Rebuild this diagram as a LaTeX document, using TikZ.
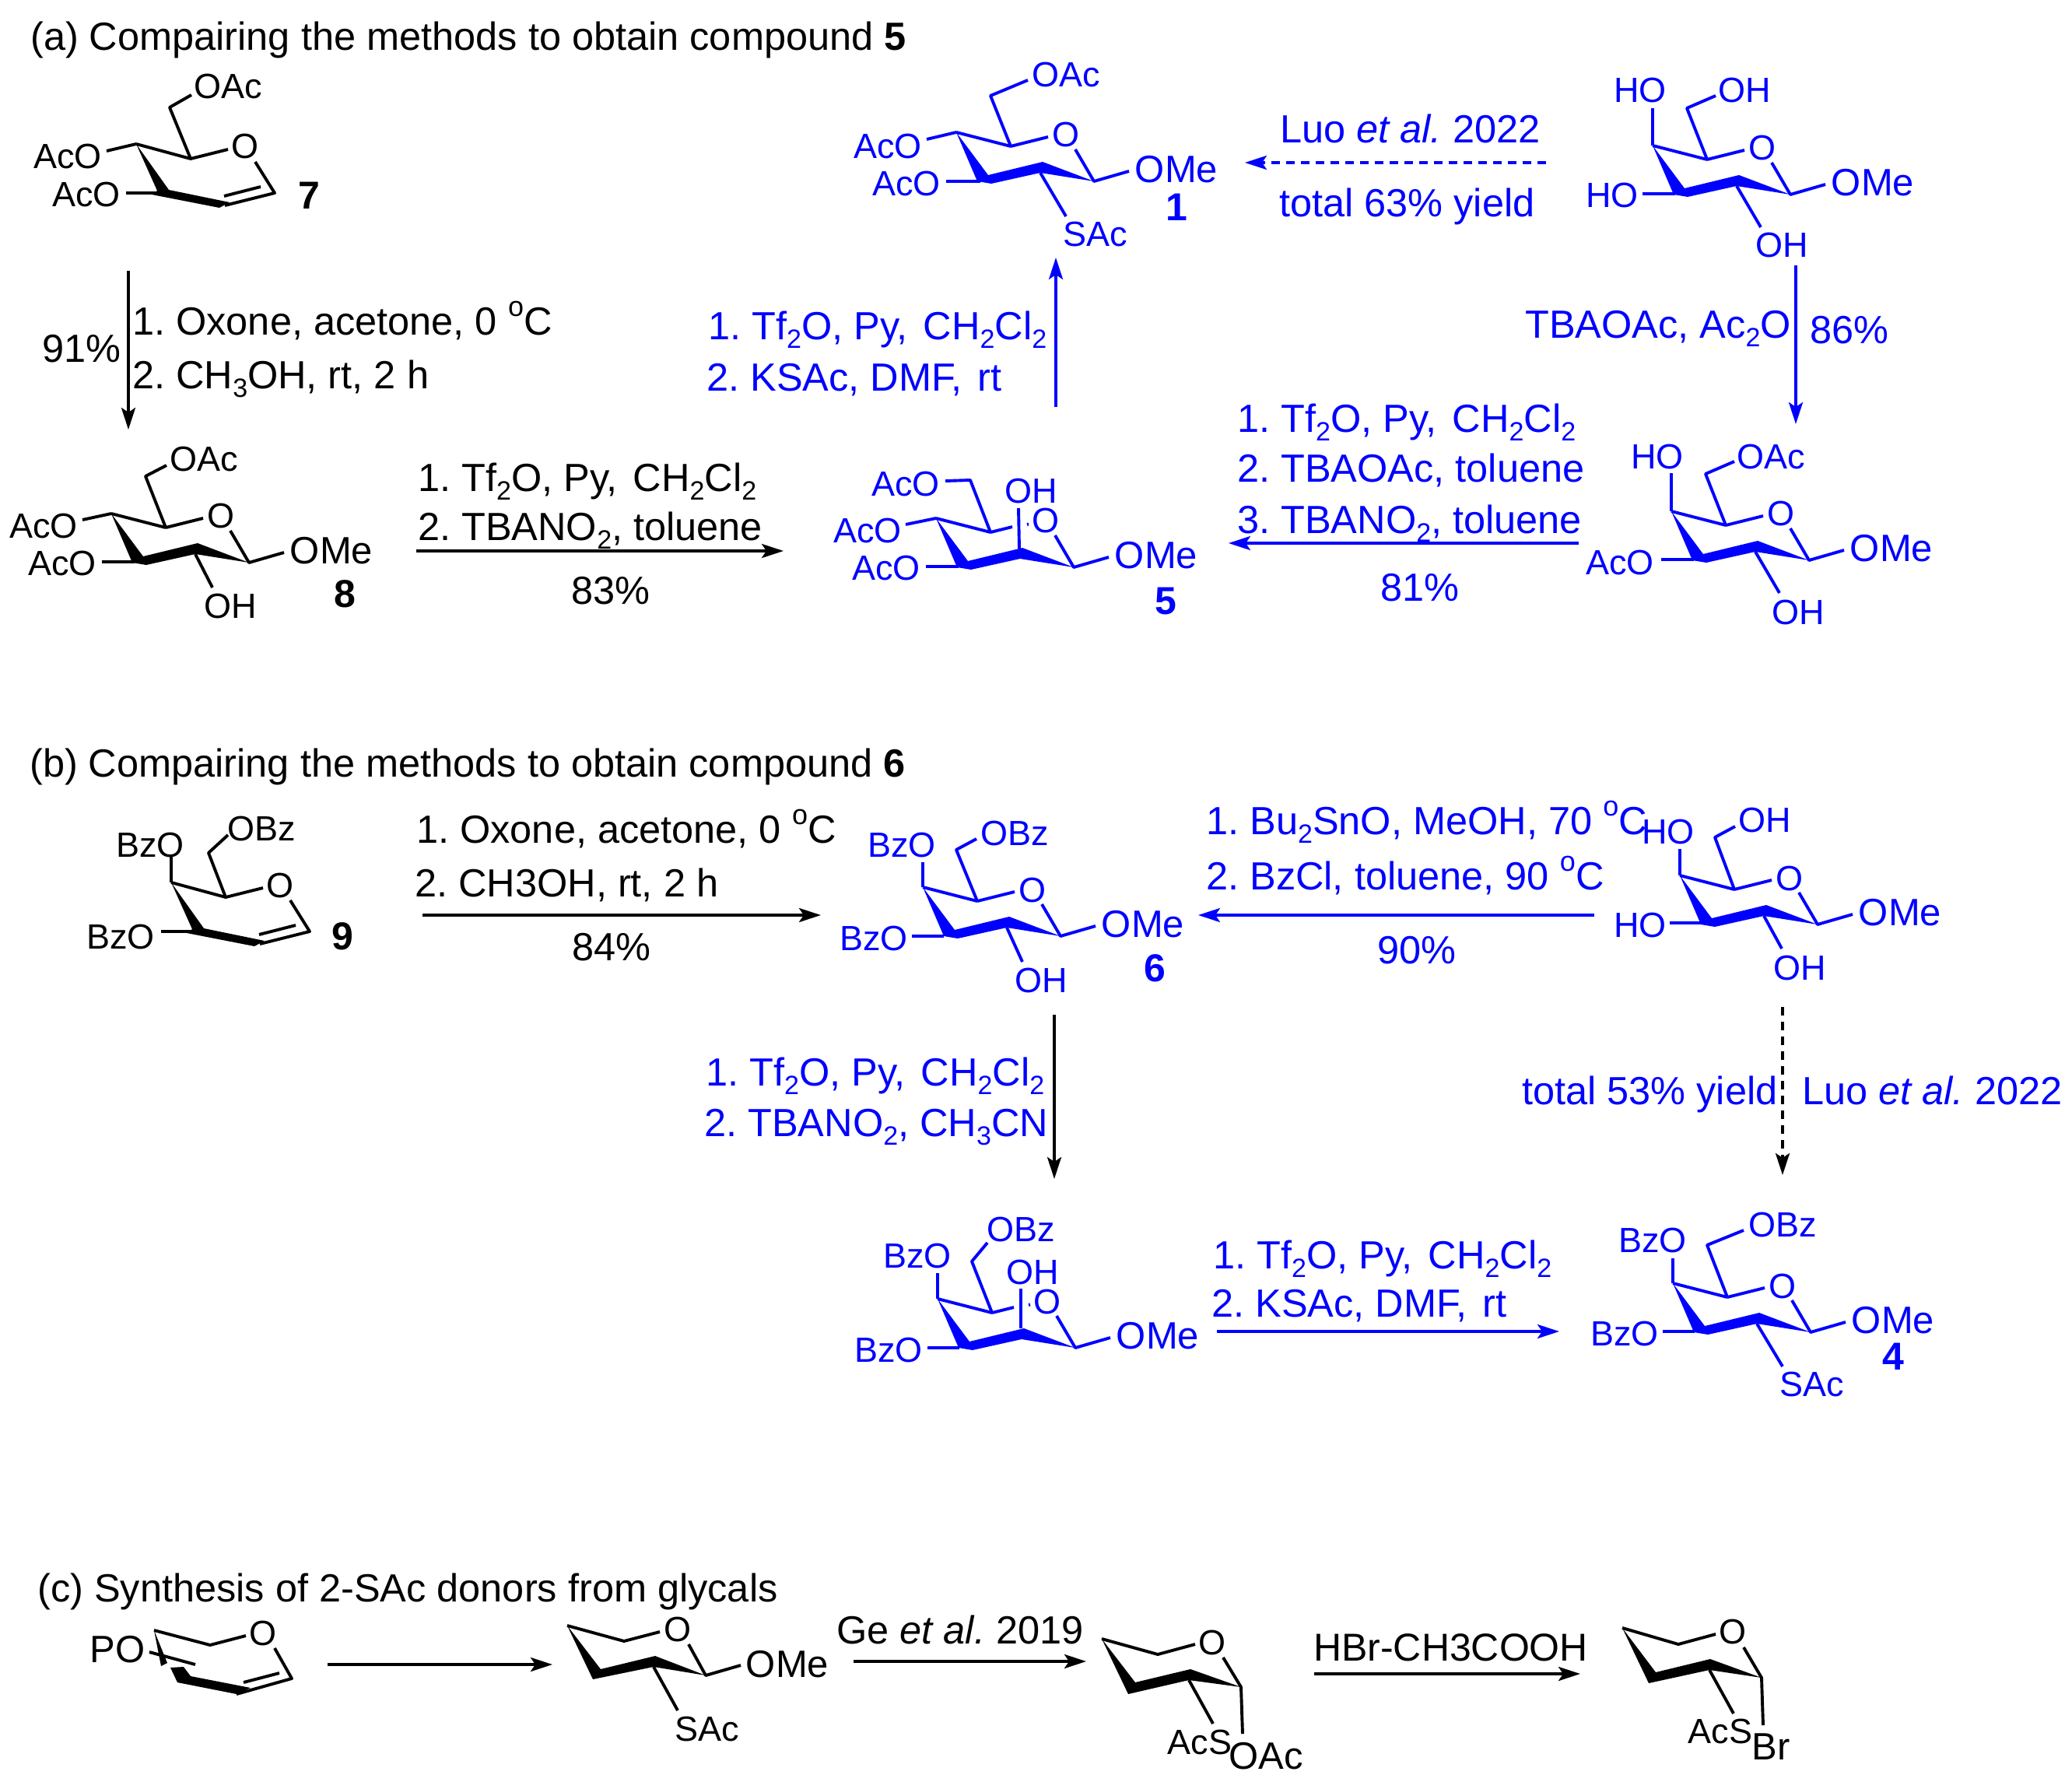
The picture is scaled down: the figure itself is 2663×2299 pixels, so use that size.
\documentclass[tikz,border=0pt]{standalone}
\usepackage{fontspec}
\setmainfont{Liberation Sans}
\usetikzlibrary{arrows.meta}
\definecolor{chemblue}{RGB}{0,0,255}
\newcommand{\lowsub}[1]{\raisebox{-0.22em}{\fontsize{34}{34}\selectfont #1}}
\newcommand{\highsup}[1]{\raisebox{0.46em}{\fontsize{36}{36}\selectfont #1}}
\newcommand{\widesp}{\ \kern0.12em}
\frenchspacing
\tikzset{
 bond/.style={line width=3.9pt,line join=round},
 rxn/.style={line width=3.7pt,-{Stealth[length=28pt,width=18pt,inset=6pt]}},
 rxndash/.style={rxn,dash pattern=on 11pt off 8pt},
 atom/.style={inner sep=0pt,yshift=-1.5pt,font=\fontsize{45}{45}\selectfont},
 atomL/.style={inner sep=0pt,yshift=-1.5pt,font=\fontsize{49}{49}\selectfont},
 numlabel/.style={inner sep=0pt,yshift=-1.5pt,font=\fontsize{50}{50}\selectfont\bfseries},
 txt/.style={inner sep=0pt,anchor=base west,yshift=-1pt,font=\fontsize{50.5}{50.5}\selectfont},
 ctxt/.style={inner sep=0pt,anchor=base,yshift=-1pt,font=\fontsize{50.5}{50.5}\selectfont},
}
% pyranose chair with O and OMe, C5 at (#2,#3)
\newcommand{\sugarring}[3]{%
 \begin{scope}[shift={(#2,#3)}]
 \coordinate (#1-c5) at (0,0);
 \coordinate (#1-c4) at (-70,-18);
 \coordinate (#1-c1) at (107,45);
 \coordinate (#1-c2) at (38,34);
 \coordinate (#1-c3) at (-43,45);
 \fill (#1-c4) -- (-29,37) -- (41,20) -- (#1-c1) -- (#1-c2) -- (-25,48) -- (#1-c3) -- cycle;
 \draw[bond] (#1-c4) -- (#1-c5);
 \node[atom] (#1-o) at (71,-16) {O};
 \node[atomL] (#1-ome) at (213,28) {OMe};
 \draw[bond] (83,4) -- (#1-c1) -- (152,32);
 \end{scope}}
\newcommand{\fullO}[1]{\draw[bond] (#1-c5) -- ++(48,-12);}
\newcommand{\gapO}[1]{\draw[bond] (#1-c5) -- ++(28,-7); \draw[bond] ([shift={(47,-10)}]#1-c5) -- ++(2,-0.5);}
% glycal chair, C5 at (#2,#3)
\newcommand{\glycalring}[3]{%
 \begin{scope}[shift={(#2,#3)}]
 \coordinate (#1-c5) at (0,0);
 \coordinate (#1-c4) at (-70,-19);
 \coordinate (#1-c1) at (108,44);
 \coordinate (#1-c2) at (44,60);
 \fill (#1-c4) -- (-28,40) -- (50,56) -- (37,63) -- (-50,46) -- (-43,41) -- cycle;
 \draw[bond] (#1-c4) -- (#1-c5) -- (48,-12);
 \node[atom] (#1-o) at (70,-17) {O};
 \draw[bond] (83,4) -- (#1-c1) -- (#1-c2);
 \draw[bond] (43,48) -- (90,36);
 \end{scope}}
\begin{document}
\begin{tikzpicture}[x=1pt,y=-1pt]
\fill[white] (0,0) rectangle (2663,2299);
\useasboundingbox (0,0) rectangle (2663,2299);
%%% headings
\node[txt] (heada) at (39,63) {(a) Compairing the methods to obtain compound \textbf{5}};
\node[txt] (headb) at (38,997) {(b) Compairing the methods to obtain compound \textbf{6}};
\node[txt] (headc) at (48,2057) {(c) Synthesis of 2-SAc donors from glycals};
%%% compound 7
\glycalring{g7}{245}{204}
\draw[bond] (g7-c5) -- (218,138) -- (246,122);
\node[atom] (g7a) at (293,110) {OAc};
\draw[bond] (g7-c4) -- (137,194);
\node[atom] (g7b) at (87,200) {AcO};
\draw[bond] (162,248) -- (200,248);
\node[atom] (g7c) at (111,249) {AcO};
\node[numlabel] (n7) at (397,250) {7};
%%% compound 8
\sugarring{m8}{213}{678}\fullO{m8}
\draw[bond] (m8-c5) -- (187,612) -- (214,598);
\node[atom] (m8a) at (262,589) {OAc};
\draw[bond] (m8-c4) -- (106,668);
\node[atom] (m8b) at (56,675) {AcO};
\draw[bond] (131,722) -- (173,722);
\node[atom] (m8c) at (80,723) {AcO};
\draw[bond] (m8-c2) -- (273,755);
\node[atom] (m8d) at (296,777) {OH};
\node[numlabel] (n8) at (443,762) {8};
%%% black reagents (a)
\node[txt] (r1) at (170,429) {1. Oxone, acetone, 0 \highsup{o}C};
\node[txt] (r2) at (170,498) {2. CH\lowsub{3}OH, rt, 2 h};
\node[txt] (r3) at (54,464) {91\%};
\node[txt] (r4) at (537,630) {1. Tf\lowsub{2}O, Py,\widesp CH\lowsub{2}Cl\lowsub{2}};
\node[txt] (r5) at (537,693) {2. TBANO\lowsub{2}, toluene};
\node[ctxt] (r6) at (785,775) {83\%};
\coordinate (a1s) at (165,348); \coordinate (a1e) at (165,552);
\draw[rxn] (a1s) -- (a1e);
\coordinate (a2s) at (535,708); \coordinate (a2e) at (1007,708);
\draw[rxn] (a2s) -- (a2e);
%%% compound 9
\glycalring{g9}{290}{1153}
\draw[bond] (g9-c5) -- (268,1096) -- (293,1073);
\node[atom] (g9a) at (336,1063) {OBz};
\draw[bond] (g9-c4) -- (220,1101);
\node[atom] (g9b) at (193,1084) {BzO};
\draw[bond] (207,1197) -- (245,1197);
\node[atom] (g9c) at (155,1202) {BzO};
\node[numlabel] (n9) at (440,1202) {9};
%%% black reagents (b)
\node[txt] (r7) at (535,1082) {1. Oxone, acetone, 0 \highsup{o}C};
\node[txt] (r8) at (533,1151) {2. CH3OH, rt, 2 h};
\node[ctxt] (r9) at (786,1233) {84\%};
\coordinate (a3s) at (543,1176); \coordinate (a3e) at (1055,1176);
\draw[rxn] (a3s) -- (a3e);
\coordinate (a4s) at (1355,1304); \coordinate (a4e) at (1355,1515);
\draw[rxn] (a4s) -- (a4e);
\coordinate (a5s) at (2291,1294); \coordinate (a5e) at (2291,1510);
\draw[rxndash] (a5s) -- (a5e);
%%% blue part
\begin{scope}[color=chemblue]
% compound 1
\sugarring{m1}{1299}{188}\fullO{m1}
\draw[bond] (m1-c5) -- (1273,123) -- (1321,103);
\node[atom] (m1a) at (1370,95) {OAc};
\draw[bond] (m1-c4) -- (1191,179);
\node[atom] (m1b) at (1141,187) {AcO};
\draw[bond] (1216,233) -- (1260,233);
\node[atom] (m1c) at (1165,235) {AcO};
\draw[bond] (m1-c2) -- (1370,278);
\node[atom] (m1d) at (1408,300) {SAc};
\node[numlabel] (n1) at (1512,265) {1};
% top right galactoside
\sugarring{m2}{2194}{205}\fullO{m2}
\draw[bond] (m2-c4) -- (2124,139);
\node[atom] (m2a) at (2108,115) {HO};
\draw[bond] (m2-c5) -- (2168,139) -- (2205,123);
\node[atom] (m2b) at (2242,115) {OH};
\draw[bond] (2111,249) -- (2153,249);
\node[atom] (m2c) at (2072,250) {HO};
\draw[bond] (m2-c2) -- (2263,292);
\node[atom] (m2d) at (2290,314) {OH};
% 3-OAc intermediate
\sugarring{m3}{2218}{675}\fullO{m3}
\draw[bond] (m3-c4) -- (2148,608);
\node[atom] (m3a) at (2130,586) {HO};
\draw[bond] (m3-c5) -- (2192,609) -- (2229,593);
\node[atom] (m3b) at (2276,586) {OAc};
\draw[bond] (2135,719) -- (2177,719);
\node[atom] (m3c) at (2082,722) {AcO};
\draw[bond] (m3-c2) -- (2287,762);
\node[atom] (m3d) at (2311,785) {OH};
% compound 5
\sugarring{m5}{1273}{684}\gapO{m5}
\draw[bond] (1309,653) -- (1310,705);
\node[atom] (m5a) at (1325,630) {OH};
\draw[bond] (m5-c5) -- (1247,617) -- (1215,618);
\node[atom] (m5b) at (1164,621) {AcO};
\draw[bond] (m5-c4) -- (1164,674);
\node[atom] (m5c) at (1115,681) {AcO};
\draw[bond] (1190,728) -- (1232,728);
\node[atom] (m5d) at (1139,729) {AcO};
\node[numlabel] (n5) at (1498,771) {5};
% compound 6
\sugarring{m6}{1256}{1158}\fullO{m6}
\draw[bond] (m6-c4) -- (1186,1108);
\node[atom] (m6a) at (1159,1084) {BzO};
\draw[bond] (m6-c5) -- (1229,1092) -- (1255,1078);
\node[atom] (m6b) at (1304,1069) {OBz};
\draw[bond] (1172,1203) -- (1213,1203);
\node[atom] (m6c) at (1123,1204) {BzO};
\draw[bond] (m6-c2) -- (1314,1236);
\node[atom] (m6d) at (1338,1258) {OH};
\node[numlabel] (n6) at (1484,1243) {6};
% right galactoside (b)
\sugarring{m7}{2229}{1143}\fullO{m7}
\draw[bond] (m7-c4) -- (2159,1091);
\node[atom] (m7a) at (2144,1067) {HO};
\draw[bond] (m7-c5) -- (2204,1076) -- (2230,1062);
\node[atom] (m7b) at (2268,1052) {OH};
\draw[bond] (2146,1186) -- (2188,1186);
\node[atom] (m7c) at (2108,1187) {HO};
\draw[bond] (m7-c2) -- (2290,1219);
\node[atom] (m7d) at (2313,1242) {OH};
% manno benzoate
\sugarring{m9}{1275}{1687}\gapO{m9}
\draw[bond] (1312,1656) -- (1312,1707);
\node[atom] (m9a) at (1327,1633) {OH};
\draw[bond] (m9-c4) -- (1205,1636);
\node[atom] (m9b) at (1179,1612) {BzO};
\draw[bond] (m9-c5) -- (1249,1621) -- (1269,1597);
\node[atom] (m9c) at (1312,1578) {OBz};
\draw[bond] (1192,1732) -- (1233,1732);
\node[atom] (m9d) at (1142,1733) {BzO};
% compound 4
\sugarring{m4}{2220}{1667}\fullO{m4}
\draw[bond] (m4-c4) -- (2150,1617);
\node[atom] (m4a) at (2124,1592) {BzO};
\draw[bond] (m4-c5) -- (2194,1600) -- (2241,1581);
\node[atom] (m4b) at (2291,1572) {OBz};
\draw[bond] (2137,1711) -- (2178,1711);
\node[atom] (m4c) at (2088,1712) {BzO};
\draw[bond] (m4-c2) -- (2291,1756);
\node[atom] (m4d) at (2329,1777) {SAc};
\node[numlabel] (n4) at (2433,1742) {4};
% blue reagents
\node[txt] (b1) at (910,435) {1. Tf\lowsub{2}O, Py,\widesp CH\lowsub{2}Cl\lowsub{2}};
\node[txt] (b2) at (908,501) {2. KSAc, DMF,\widesp rt};
\node[txt] (b3) at (1645,182) {Luo \textit{et al.} 2022};
\node[txt] (b4) at (1644,277) {total 63\% yield};
\node[txt] (b5) at (1960,433) {TBAOAc, Ac\lowsub{2}O};
\node[txt] (b6) at (2326,440) {86\%};
\node[txt] (b7) at (1590,554) {1. Tf\lowsub{2}O, Py,\widesp CH\lowsub{2}Cl\lowsub{2}};
\node[txt] (b8) at (1590,618) {2. TBAOAc, toluene};
\node[txt] (b9) at (1590,684) {3. TBANO\lowsub{2}, toluene};
\node[ctxt] (b10) at (1825,771) {81\%};
\node[txt] (b11) at (1550,1071) {1. Bu\lowsub{2}SnO, MeOH, 70 \highsup{o}C};
\node[txt] (b12) at (1550,1142) {2. BzCl, toluene, 90 \highsup{o}C};
\node[ctxt] (b13) at (1821,1237) {90\%};
\node[txt] (b14) at (907,1394) {1. Tf\lowsub{2}O, Py,\widesp CH\lowsub{2}Cl\lowsub{2}};
\node[txt] (b15) at (905,1459) {2. TBANO\lowsub{2}, CH\lowsub{3}CN};
\node[txt] (b16) at (1956,1418) {total 53\% yield};
\node[txt] (b17) at (2316,1418) {Luo \textit{et al.} 2022};
\node[txt] (b18) at (1559,1629) {1. Tf\lowsub{2}O, Py,\widesp CH\lowsub{2}Cl\lowsub{2}};
\node[txt] (b19) at (1557,1691) {2. KSAc, DMF,\widesp rt};
% blue arrows
\coordinate (c1s) at (1357,523); \coordinate (c1e) at (1357,331);
\draw[rxn] (c1s) -- (c1e);
\coordinate (c2s) at (1987,209); \coordinate (c2e) at (1600,209);
\draw[rxndash] (c2s) -- (c2e);
\coordinate (c3s) at (2308,341); \coordinate (c3e) at (2308,545);
\draw[rxn] (c3s) -- (c3e);
\coordinate (c4s) at (2029,698); \coordinate (c4e) at (1579,698);
\draw[rxn] (c4s) -- (c4e);
\coordinate (c5s) at (2049,1176); \coordinate (c5e) at (1540,1176);
\draw[rxn] (c5s) -- (c5e);
\coordinate (c6s) at (1564,1711); \coordinate (c6e) at (2004,1711);
\draw[rxn] (c6s) -- (c6e);
\end{scope}
%%% part (c)
% glycal PO
\node[atomL] (p1a) at (151,2118) {PO};
\coordinate (p1c4) at (198,2095); \coordinate (p1c5) at (270,2114); \coordinate (p1c1) at (375,2157); \coordinate (p1c2) at (304,2177);
\fill (p1c4) -- (215,2137) -- (207,2141) -- cycle;
\draw[bond] (p1c4) -- (p1c5) -- (316,2102);
\node[atom] (p1o) at (338,2097) {O};
\draw[bond] (353,2118) -- (p1c1) -- (p1c2);
\draw[bond] (313,2162) -- (359,2150);
\draw[bond] (192,2123) -- (251,2139);
\fill (219,2143) -- (236,2142) -- (245,2154) -- (322,2169) -- (p1c2) -- (228,2162) -- cycle;
% c-SAc OMe
\coordinate (p2c4) at (729,2089); \coordinate (p2c5) at (802,2109); \coordinate (p2c1) at (907,2153); \coordinate (p2c2) at (840,2142);
\fill (p2c4) -- (772,2145) -- (842,2128) -- (p2c1) -- (p2c2) -- (762,2158) -- cycle;
\draw[bond] (p2c4) -- (p2c5) -- (848,2097);
\node[atom] (p2o) at (871,2092) {O};
\draw[bond] (885,2113) -- (p2c1) -- (952,2140);
\node[atomL] (p2a) at (1012,2137) {OMe};
\draw[bond] (p2c2) -- (871,2198);
\node[atom] (p2b) at (909,2220) {SAc};
% c-SAc OAc
\coordinate (p3c4) at (1416,2106); \coordinate (p3c5) at (1488,2126); \coordinate (p3c1) at (1595,2168); \coordinate (p3c2) at (1528,2159);
\fill (p3c4) -- (1459,2162) -- (1530,2145) -- (p3c1) -- (p3c2) -- (1450,2177) -- cycle;
\draw[bond] (p3c4) -- (p3c5) -- (1536,2113);
\node[atom] (p3o) at (1558,2109) {O};
\draw[bond] (1572,2130) -- (p3c1) -- (1597,2228);
\draw[bond] (p3c2) -- (1559,2215);
\node[atom] (p3a) at (1542,2237) {AcS};
\node[atomL] (p3b) at (1627,2255) {OAc};
% c-SAc Br
\coordinate (p4c4) at (2085,2092); \coordinate (p4c5) at (2157,2113); \coordinate (p4c1) at (2264,2156); \coordinate (p4c2) at (2197,2146);
\fill (p4c4) -- (2128,2149) -- (2198,2132) -- (p4c1) -- (p4c2) -- (2119,2163) -- cycle;
\draw[bond] (p4c4) -- (p4c5) -- (2205,2100);
\node[atom] (p4o) at (2227,2095) {O};
\draw[bond] (2241,2117) -- (p4c1) -- (2266,2217);
\draw[bond] (p4c2) -- (2228,2202);
\node[atom] (p4a) at (2211,2223) {AcS};
\node[atomL] (p4b) at (2276,2243) {Br};
% (c) arrows and text
\node[txt] (t1) at (1075,2111) {Ge \textit{et al.} 2019};
\node[txt,font=\fontsize{50}{50}\selectfont] (t2) at (1688,2133) {HBr-CH3COOH};
\coordinate (d1s) at (421,2139); \coordinate (d1e) at (710,2139);
\draw[rxn] (d1s) -- (d1e);
\coordinate (d2s) at (1097,2135); \coordinate (d2e) at (1396,2135);
\draw[rxn] (d2s) -- (d2e);
\coordinate (d3s) at (1689,2151); \coordinate (d3e) at (2031,2151);
\draw[rxn] (d3s) -- (d3e);
\end{tikzpicture}
\end{document}
